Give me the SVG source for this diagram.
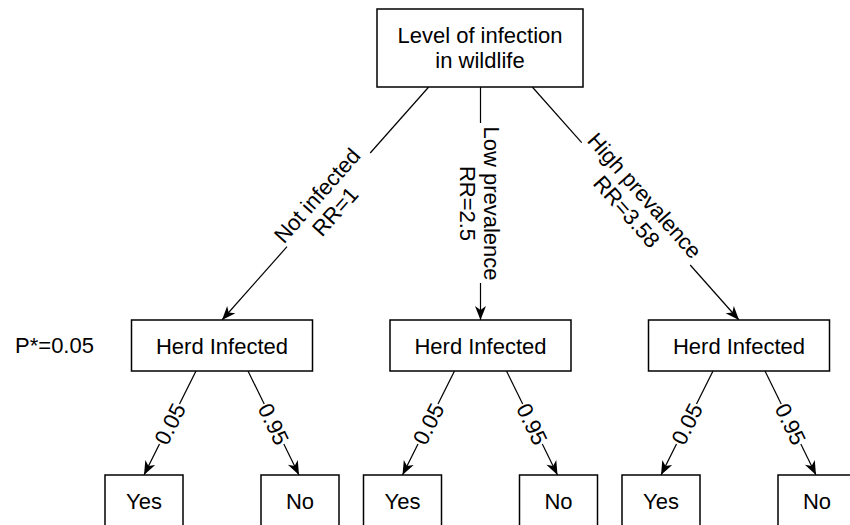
<svg xmlns="http://www.w3.org/2000/svg" width="850" height="525" viewBox="0 0 850 525">
<style>
.box{fill:#fff;stroke:#000;stroke-width:1.5}
.t{font-family:"Liberation Sans",Arial,sans-serif;font-size:22px;fill:#000;text-anchor:middle}
.edge{stroke:#000;stroke-width:1.2;fill:none}
</style>
<defs>
<marker id="arr" markerUnits="userSpaceOnUse" markerWidth="16" markerHeight="12" viewBox="-15 -6 16 12" refX="0" refY="0" orient="auto">
<path d="M0,0 L-14,-5.5 L-10,0 L-14,5.5 Z" fill="#000"/>
</marker>
</defs>
<rect width="850" height="525" fill="#fff"/>
<g id="connectors">
<line class="edge" x1="428.7" y1="87" x2="370.2" y2="153"/>
<line class="edge" x1="287" y1="246.7" x2="222" y2="320" marker-end="url(#arr)"/>
<line class="edge" x1="480.5" y1="87" x2="480.5" y2="123"/>
<line class="edge" x1="480.5" y1="283" x2="480.5" y2="320" marker-end="url(#arr)"/>
<line class="edge" x1="532.3" y1="87" x2="581.7" y2="142.7"/>
<line class="edge" x1="690.2" y1="265" x2="739" y2="320" marker-end="url(#arr)"/>

<line class="edge" x1="196" y1="371" x2="179.5" y2="404"/>
<line class="edge" x1="159.5" y1="444" x2="144" y2="475" marker-end="url(#arr)"/>
<line class="edge" x1="248" y1="371" x2="264.2" y2="404"/>
<line class="edge" x1="283.8" y1="444" x2="299" y2="475" marker-end="url(#arr)"/>

<line class="edge" x1="454.5" y1="371" x2="438" y2="404"/>
<line class="edge" x1="418" y1="444" x2="402.5" y2="475" marker-end="url(#arr)"/>
<line class="edge" x1="506.5" y1="371" x2="522.7" y2="404"/>
<line class="edge" x1="542.3" y1="444" x2="557.5" y2="475" marker-end="url(#arr)"/>

<line class="edge" x1="713" y1="371" x2="696.5" y2="404"/>
<line class="edge" x1="676.5" y1="444" x2="661" y2="475" marker-end="url(#arr)"/>
<line class="edge" x1="765" y1="371" x2="781.2" y2="404"/>
<line class="edge" x1="800.8" y1="444" x2="816" y2="475" marker-end="url(#arr)"/>

<g transform="translate(326,203.5) rotate(-48.5)"><text class="t"><tspan x="0" y="-4.3">Not infected</tspan><tspan x="0" y="19.7">RR=1</tspan></text></g>
<g transform="translate(479.5,203.5) rotate(90)"><text class="t"><tspan x="0" y="-4.3">Low prevalence</tspan><tspan x="0" y="19.7">RR=2.5</tspan></text></g>
<g transform="translate(635.7,203.5) rotate(48.4)"><text class="t"><tspan x="0" y="-4.3">High prevalence</tspan><tspan x="0" y="19.7">RR=3.58</tspan></text></g>
<g transform="translate(170,424) rotate(-63.4)"><text class="t" y="7.7">0.05</text></g>
<g transform="translate(273.5,424) rotate(63.9)"><text class="t" y="7.7">0.95</text></g>
<g transform="translate(428.5,424) rotate(-63.4)"><text class="t" y="7.7">0.05</text></g>
<g transform="translate(532,424) rotate(63.9)"><text class="t" y="7.7">0.95</text></g>
<g transform="translate(687,424) rotate(-63.4)"><text class="t" y="7.7">0.05</text></g>
<g transform="translate(790.5,424) rotate(63.9)"><text class="t" y="7.7">0.95</text></g>
</g>
<g id="root">
<rect class="box" x="377" y="9" width="206" height="78"/>
<text class="t" x="480" y="43.2">Level of infection</text>
<text class="t" x="480" y="68.2">in wildlife</text>
</g>
<g id="p-label"><text class="t" x="54.5" y="353.3">P*=0.05</text></g>
<g id="herd1"><rect class="box" x="131.5" y="320" width="181" height="51"/><text class="t" x="222" y="353.5">Herd Infected</text></g>
<g id="herd2"><rect class="box" x="390" y="320" width="181" height="51"/><text class="t" x="480.5" y="353.5">Herd Infected</text></g>
<g id="herd3"><rect class="box" x="648.5" y="320" width="181" height="51"/><text class="t" x="739" y="353.5">Herd Infected</text></g>
<g id="yes1"><rect class="box" x="105" y="475" width="78" height="70"/><text class="t" x="144" y="509.3">Yes</text></g>
<g id="no1"><rect class="box" x="261" y="475" width="78" height="70"/><text class="t" x="300" y="509.3">No</text></g>
<g id="yes2"><rect class="box" x="363.5" y="475" width="78" height="70"/><text class="t" x="402.5" y="509.3">Yes</text></g>
<g id="no2"><rect class="box" x="519.5" y="475" width="78" height="70"/><text class="t" x="558.5" y="509.3">No</text></g>
<g id="yes3"><rect class="box" x="622" y="475" width="78" height="70"/><text class="t" x="661" y="509.3">Yes</text></g>
<g id="no3"><rect class="box" x="778" y="475" width="78" height="70"/><text class="t" x="817" y="509.3">No</text></g>
</svg>
